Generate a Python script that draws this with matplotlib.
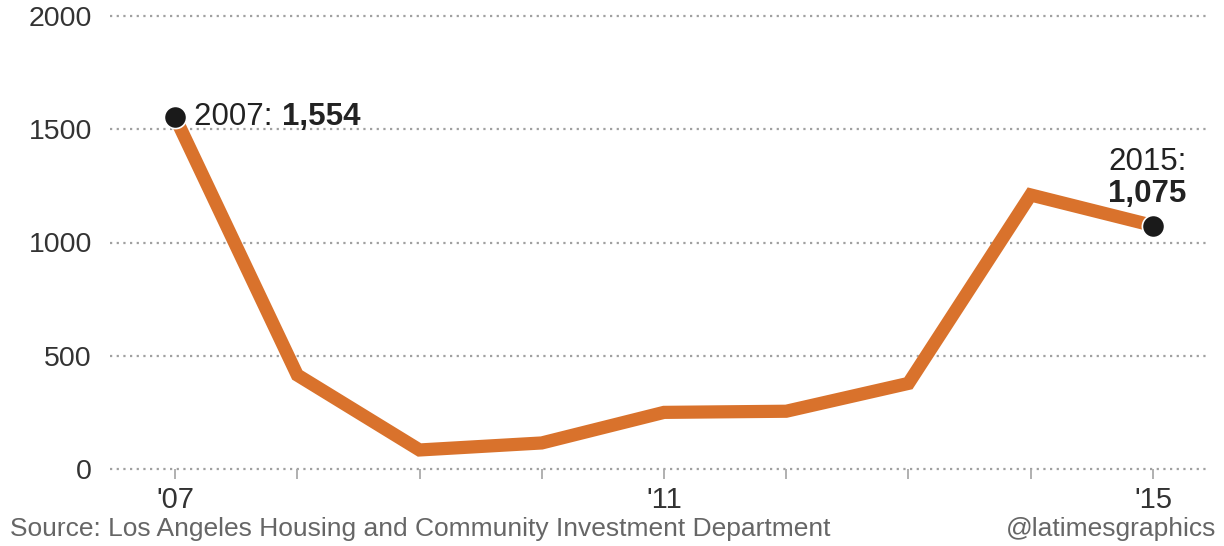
import numpy as np
import matplotlib.pyplot as plt

plt.rcParams['font.family'] = ['Liberation Sans', 'DejaVu Sans']

years = [2007, 2008, 2009, 2010, 2011, 2012, 2013, 2014, 2015]
units = [1554, 415, 84, 115, 250, 255, 378, 1210, 1075]
yticks = [0, 500, 1000, 1500, 2000]
xtick_years = [2007, 2011, 2015]
xtick_labels = ["'07", "'11", "'15"]

fig = plt.figure(figsize=(12.24, 5.46), dpi=100)
ax = fig.add_axes([110 / 1224, 77 / 546, 1100 / 1224, 453 / 546])

for y in yticks:
    ax.axhline(y, color='#a0a0a0', lw=1.6, ls=(0, (1, 2.0)), zorder=1, clip_on=False)

ax.plot(years, units, color='#D9722C', lw=9.5, solid_joinstyle='miter', zorder=2)
ends = [0, len(years) - 1]
ax.plot([years[i] for i in ends], [units[i] for i in ends], 'o', ms=16,
        color='#1a1a1a', mec='white', mew=1.2, zorder=3, clip_on=False)

ax.set_xlim(2006.468, 2015.467)
ax.set_ylim(0, 2000)
for s in ax.spines.values():
    s.set_visible(False)

ax.set_yticks(yticks)
ax.set_yticklabels([str(v) for v in yticks], fontsize=20.5, color='#333333')
ax.tick_params(axis='y', length=0, pad=13)
ax.set_xticks(xtick_years)
ax.set_xticklabels(xtick_labels, fontsize=21, color='#333333')
ax.set_xticks(years, minor=True)
ax.tick_params(axis='x', which='both', length=7, width=1.3, color='#aaaaaa',
               direction='out', pad=5)

# annotations
t1 = ax.annotate('2007: ', xy=(years[0], units[0]), xytext=(14, 0),
                 textcoords='offset points', fontsize=22.5, color='#222222',
                 va='center', ha='left')
ax.annotate('1,554', xy=(1, 0.5), xycoords=t1, fontsize=22.5, color='#222222',
            fontweight='bold', va='center', ha='left')
ax.annotate('2015:', xy=(years[-1], units[-1]), xytext=(-4, 46),
            textcoords='offset points', fontsize=22.5, color='#222222',
            va='center', ha='center')
ax.annotate('1,075', xy=(years[-1], units[-1]), xytext=(-4, 23),
            textcoords='offset points', fontsize=22.5, color='#222222',
            fontweight='bold', va='center', ha='center')

fig.text(10 / 1224, 5 / 546, 'Source: Los Angeles Housing and Community Investment Department',
         fontsize=19, color='#666666', ha='left', va='bottom')
fig.text(1216 / 1224, 5 / 546, '@latimesgraphics', fontsize=19, color='#666666',
         ha='right', va='bottom')

fig.savefig('out.png', dpi=100)
